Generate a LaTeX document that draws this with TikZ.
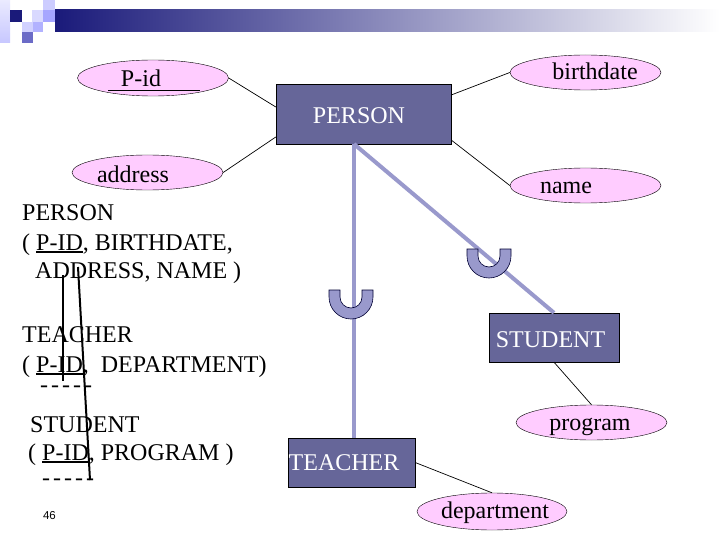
\documentclass[tikz,border=0pt]{standalone}
\usepackage{fontspec}
\setmainfont{Liberation Serif}
\setsansfont{Liberation Sans}
\usetikzlibrary{shapes.geometric}
\definecolor{entfill}{HTML}{666699}
\definecolor{isaline}{HTML}{9999CC}
\definecolor{attrfill}{HTML}{FFCCFF}
\definecolor{barnavy}{HTML}{1A1A7A}
\newcommand\pkey[1]{\setbox0\hbox{#1}\rlap{\rule[-3pt]{\wd0}{2.4pt}}\box0}
\tikzset{subset/.pic={
    \filldraw[fill=isaline, draw=black!80!blue, line width=0.6pt]
      (-22,-7) -- (-22,0) arc (180:0:22) -- (22,-7) -- (11,-7) -- (11,0)
      arc (0:180:11) -- (-11,-7) -- cycle;
}}
\begin{document}
\begin{tikzpicture}[x=1pt, y=-1pt, font=\fontsize{24}{28}\selectfont,
    ent/.style={rectangle, draw, fill=entfill, inner sep=0pt},
    attr/.style={ellipse, draw, fill=attrfill, inner sep=0pt, minimum width=151pt, minimum height=35pt},
    lbl/.style={anchor=base, inner sep=0pt},
    txt/.style={anchor=base west, inner sep=0pt},
    rel/.style={line width=0.7pt},
    isa/.style={isaline, line width=4pt},
    fk/.style={line width=2pt}]
    \useasboundingbox (0,0) rectangle (720,540);
    \fill[white] (0,0) rectangle (720,540);
    % title bar
    \shade[left color=barnavy, right color=white] (55,10) rectangle (720,32);
    \shade[top color=blue!8, bottom color=blue!22] (0,0) rectangle (10,43);
    \fill[barnavy] (10,10) rectangle (22,22);
    \fill[blue!20] (43,0) rectangle (55,10);
    \fill[blue!15] (32,10) rectangle (43,22);
    \fill[blue!35] (43,10) rectangle (55,22);
    \fill[blue!18] (22,22) rectangle (33,33);
    \fill[blue!30] (33,22) rectangle (43,32);
    \fill[blue!45!gray!80] (22,32) rectangle (33,43);

    % entities
    \node[ent, minimum width=175pt, minimum height=60pt] (person) at (363.5,114) {};
    \node[ent, minimum width=130pt, minimum height=49pt] (student) at (554,337.5) {};
    \node[ent, minimum width=127pt, minimum height=49pt] (teacher) at (351.5,462.5) {};
    \node[lbl, text=white] (persont) at (359,124) {PERSON};
    \node[lbl, text=white] (studentt) at (550.5,347) {STUDENT};
    \node[lbl, text=white] (teachert) at (344,470) {TEACHER};

    % attributes
    \node[attr, minimum height=36pt] (pid) at (153,78) {};
    \node[attr] (birth) at (585.5,72.5) {};
    \node[attr] (name) at (585.5,185.5) {};
    \node[attr] (addr) at (147.5,172.5) {};
    \node[attr] (prog) at (591.5,422.5) {};
    \node[attr, minimum width=150pt, minimum height=37pt] (dept) at (492,511.5) {};
    \node[lbl] (pidt) at (141,87) {P-id};
    \node[lbl] (birtht) at (595,80) {birthdate};
    \node[lbl] (namet) at (566,194) {name};
    \node[lbl] (addrt) at (133,183) {address};
    \node[lbl] (progt) at (590,430) {program};
    \node[lbl] (deptt) at (495,518) {department};
    \draw[rel] ([xshift=-45pt,yshift=-12pt]pid.center) -- ([xshift=47pt,yshift=-12pt]pid.center);

    % attribute links
    \draw[rel] (pid.east) -- ([yshift=7pt]person.west);
    \draw[rel] (addr.east) -- ([yshift=-23pt]person.west);
    \draw[rel] (birth.west) -- ([yshift=19pt]person.east);
    \draw[rel] (name.west) -- ([yshift=-26pt]person.east);
    \draw[rel] (student.south) -- (prog.north);
    \draw[rel] (teacher.east) -- (dept.north);

    % specialisation
    \coordinate (isatop) at (354,144);
    \draw[isa] (isatop) -- (isatop |- teacher.north);
    \draw[isa] (isatop) -- (student.north);
    \pic at (351,297) {subset};
    \pic at (489,256) {subset};

    % relational schema
    \node[txt] (rp1) at (22,221) {PERSON};
    \node[txt] (rp2) at (22,250) {( \pkey{P-ID}, BIRTHDATE,};
    \node[txt] (rp3) at (35,278) {ADDRESS, NAME )};
    \node[txt] (rt1) at (22,342) {TEACHER};
    \node[txt] (rt2) at (22,372) {( \pkey{P-ID},\ \ DEPARTMENT)};
    \node[txt] (rt3) at (40,392) {-\kern3pt-\kern3pt-\kern3pt-\kern3pt-};
    \node[txt] (rs1) at (30,432) {STUDENT};
    \node[txt] (rs2) at (28,460) {( \pkey{P-ID}, PROGRAM )};
    \node[txt] (rs3) at (42,485.5) {-\kern3pt-\kern3pt-\kern3pt-\kern3pt-};
    \coordinate (fka) at (63,275);
    \coordinate (fkb) at (63,381);
    \coordinate (fkc) at (78,267);
    \coordinate (fkd) at (90,480);
    \draw[fk] (fka) -- (fkb);
    \draw[fk] (fkc) -- (fkd);

    \node[font=\sffamily\fontsize{11.5}{13}\selectfont] (pagenum) at (49.5,516) {46};
\end{tikzpicture}
\end{document}
